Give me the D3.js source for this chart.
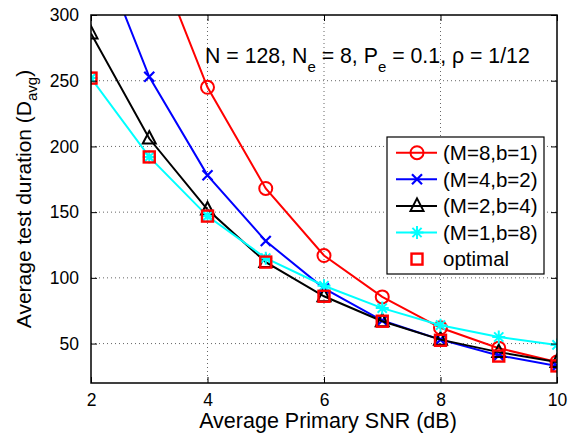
<!DOCTYPE html>
<html>
<head>
<meta charset="utf-8">
<script src="https://cdn.jsdelivr.net/npm/d3@7"></script>
<style>
  body { margin: 0; background: #fff; }
  text { font-family: "Liberation Sans", Arial, Helvetica, sans-serif; fill: #000; }
</style>
</head>
<body>
<div id="chart-area"></div>
<script>
const SVG_WIDTH = 576;
const SVG_HEIGHT = 435;
const margin = { left: 91, right: 19, top: 15, bottom: 52 };
const W = SVG_WIDTH - margin.left - margin.right;
const H = SVG_HEIGHT - margin.top - margin.bottom;

// data
const snr = [2, 3, 4, 5, 6, 7, 8, 9, 10];
const m8b1 = [null, 357, 245, 168, 117, 85.5, 62, 46.5, 36];
const m4b2 = [365, 253, 178, 128, 92, 67.5, 53, 41, 33];
const m2b4 = [286, 206, 152, 112, 86, 67, 53, 43.5, 36];
const m1b8 = [252, 192, 147, 115, 94, 77, 64, 55, 49];
const optimal = [252, 192, 147, 112, 86, 67, 52.5, 40.5, 33];
const xTicks = [2, 4, 6, 8, 10];
const yTicks = [50, 100, 150, 200, 250, 300];

const series = [
  { name: "(M=8,b=1)", values: m8b1, color: "#ff0000", marker: "circle", line: true },
  { name: "(M=4,b=2)", values: m4b2, color: "#0000ff", marker: "x", line: true },
  { name: "(M=2,b=4)", values: m2b4, color: "#000000", marker: "triangle", line: true },
  { name: "(M=1,b=8)", values: m1b8, color: "#00ffff", marker: "star", line: true },
  { name: "optimal", values: optimal, color: "#ff0000", marker: "square", line: false }
];

const svg = d3.select("#chart-area").append("svg")
  .attr("width", SVG_WIDTH).attr("height", SVG_HEIGHT);
const g = svg.append("g").attr("transform", `translate(${margin.left},${margin.top})`);

const x = d3.scaleLinear().domain([2, 10]).range([0, W]);
const y = d3.scaleLinear().domain([20, 300]).range([H, 0]);

// grid
g.append("g").selectAll("line").data(xTicks.slice(1, -1)).enter().append("line")
  .attr("x1", d => x(d)).attr("x2", d => x(d)).attr("y1", 0).attr("y2", H)
  .attr("stroke", "#666").attr("stroke-width", 1).attr("stroke-dasharray", "1,3");
g.append("g").selectAll("line").data(yTicks.slice(0, -1)).enter().append("line")
  .attr("x1", 0).attr("x2", W).attr("y1", d => y(d)).attr("y2", d => y(d))
  .attr("stroke", "#666").attr("stroke-width", 1).attr("stroke-dasharray", "1,3");

svg.append("defs").append("clipPath").attr("id", "clip")
  .append("rect").attr("width", W).attr("height", H);

const plot = g.append("g").attr("clip-path", "url(#clip)");

function drawMarker(sel, type, color) {
  if (type === "circle") {
    sel.append("circle").attr("r", 6.5).attr("fill", "none").attr("stroke", color).attr("stroke-width", 2);
  } else if (type === "x") {
    sel.append("path").attr("d", "M-5,-5L5,5M-5,5L5,-5").attr("stroke", color).attr("stroke-width", 2.2);
  } else if (type === "triangle") {
    sel.append("path").attr("d", "M0,-7.5L6.5,5L-6.5,5Z").attr("fill", "none").attr("stroke", color).attr("stroke-width", 2);
  } else if (type === "star") {
    sel.append("path").attr("d", "M0,-6.5V6.5M-6.5,0H6.5M-4.6,-4.6L4.6,4.6M-4.6,4.6L4.6,-4.6")
      .attr("stroke", color).attr("stroke-width", 2);
  } else if (type === "square") {
    sel.append("rect").attr("x", -5.5).attr("y", -5.5).attr("width", 11).attr("height", 11)
      .attr("fill", "none").attr("stroke", color).attr("stroke-width", 2.4);
  }
}

const line = d3.line().defined(d => d.v != null).x(d => x(d.x)).y(d => y(d.v));

series.forEach(s => {
  const pts = snr.map((v, i) => ({ x: v, v: s.values[i] })).filter(d => d.v != null);
  if (s.line) {
    plot.append("path").datum(pts).attr("d", line)
      .attr("fill", "none").attr("stroke", s.color).attr("stroke-width", 2);
  }
  pts.filter(d => d.v <= 300).forEach(d => {
    const m = plot.append("g").attr("transform", `translate(${x(d.x)},${y(d.v)})`);
    drawMarker(m, s.marker, s.color);
  });
});

// box + ticks
g.append("rect").attr("width", W).attr("height", H)
  .attr("fill", "none").attr("stroke", "#000").attr("stroke-width", 1.5);

const TL = 6;
const xAxis = g.append("g").attr("transform", `translate(0,${H})`)
  .call(d3.axisBottom(x).tickValues(xTicks).tickSize(-TL).tickPadding(11).tickFormat(d3.format("d")));
const xAxisTop = g.append("g")
  .call(d3.axisTop(x).tickValues(xTicks).tickSize(-TL).tickFormat(""));
const yAxis = g.append("g")
  .call(d3.axisLeft(y).tickValues(yTicks).tickSize(-TL).tickPadding(12));
const yAxisR = g.append("g").attr("transform", `translate(${W},0)`)
  .call(d3.axisRight(y).tickValues(yTicks).tickSize(-TL).tickFormat(""));
[xAxis, xAxisTop, yAxis, yAxisR].forEach(a => {
  a.select(".domain").remove();
  a.selectAll(".tick line").attr("stroke", "#000").attr("stroke-width", 1);
  a.selectAll("text").attr("font-size", "17.5px").style("font-family", "'Liberation Sans', Arial, sans-serif");
});

// axis labels
svg.append("text").attr("x", margin.left + W / 2 + 4).attr("y", 428)
  .attr("text-anchor", "middle").attr("font-size", "21.5px")
  .text("Average Primary SNR (dB)");

const yl = svg.append("text").attr("transform", `translate(31,${margin.top + H / 2}) rotate(-90)`)
  .attr("text-anchor", "middle").attr("font-size", "21px");
yl.append("tspan").text("Average test duration (D");
yl.append("tspan").attr("font-size", "15px").attr("dy", 6).text("avg");
yl.append("tspan").attr("dy", -6).text(")");

// annotation
const ann = svg.append("text").attr("x", 205).attr("y", 63).attr("font-size", "21.3px");
ann.append("tspan").text("N = 128, N");
ann.append("tspan").attr("font-size", "15px").attr("dy", 9).text("e");
ann.append("tspan").attr("dy", -9).text(" = 8, P");
ann.append("tspan").attr("font-size", "15px").attr("dy", 9).text("e");
ann.append("tspan").attr("dy", -9).text(" = 0.1, ρ = 1/12");

// legend
const leg = svg.append("g").attr("transform", "translate(387,137)");
leg.append("rect").attr("width", 157).attr("height", 137)
  .attr("fill", "#fff").attr("stroke", "#000").attr("stroke-width", 1.2);
series.forEach((s, i) => {
  const ly = 15.7 + i * 26.6;
  if (s.line) {
    leg.append("line").attr("x1", 9).attr("x2", 50).attr("y1", ly).attr("y2", ly)
      .attr("stroke", s.color).attr("stroke-width", 2);
  }
  drawMarker(leg.append("g").attr("transform", `translate(30,${ly})`), s.marker, s.color);
  leg.append("text").attr("x", 56).attr("y", ly).attr("dy", "0.36em")
    .attr("font-size", "20.5px").text(s.name);
});
</script>
</body>
</html>
